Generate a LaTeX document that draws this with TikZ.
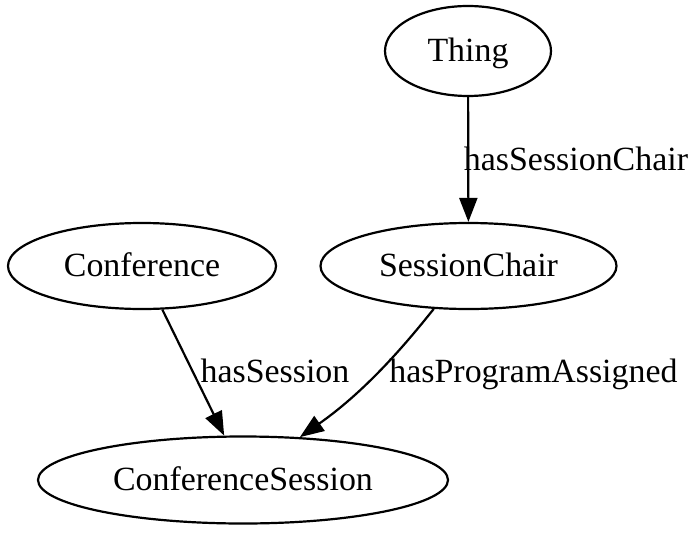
\documentclass[tikz,border=0pt]{standalone}
\usepackage{fontspec}
\setmainfont{Liberation Serif}
\usetikzlibrary{shapes.geometric,arrows.meta}
\begin{document}
\begin{tikzpicture}[x=1pt,y=-1pt,
  every node/.style={font=\fontsize{33.9}{40}\selectfont},
  cls/.style={draw, ellipse, line width=2.2pt, inner sep=0pt, text height=27.8pt, text depth=6.8pt},
  edge/.style={line width=2.2pt, -{Triangle[length=24pt,width=18pt]}},
  lbl/.style={inner sep=0pt, anchor=base}
]
\useasboundingbox (0,0) rectangle (700,532);
\node[cls, minimum width=166pt, minimum height=90pt] (thing) at (468,51) {Thing};
\node[cls, minimum width=296pt, minimum height=86pt] (sc) at (468.5,266) {SessionChair};
\node[cls, minimum width=268pt, minimum height=86pt] (conf) at (142,266) {Conference};
\node[cls, minimum width=410pt, minimum height=87pt] (cs) at (243,480) {ConferenceSession};

\draw[edge] (thing) -- (sc);
\draw[edge] (conf.295.5) -- (cs.113.8);
\draw[edge] (sc.231.4) .. controls (412,336) and (370,388) .. (cs.37.5);

\node[lbl] (l1) at (576,170) {hasSessionChair};
\node[lbl] (l2) at (275,382) {hasSession};
\node[lbl] (l3) at (533.5,382) {hasProgramAssigned};
\end{tikzpicture}
\end{document}
